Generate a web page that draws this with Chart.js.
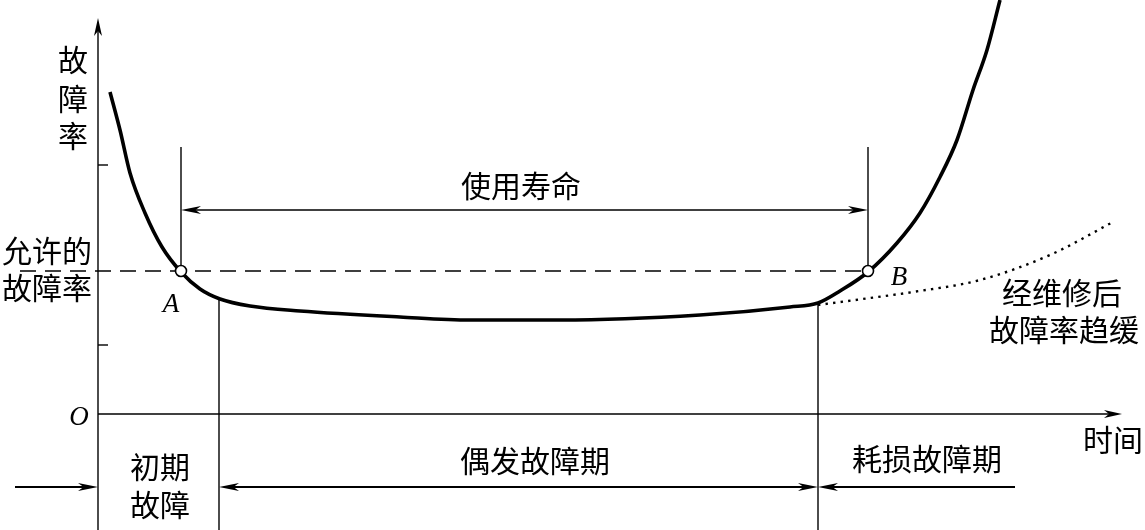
<!DOCTYPE html>
<html>
<head>
<meta charset="utf-8">
<script src="https://cdn.jsdelivr.net/npm/chart.js@4.4.1/dist/chart.umd.min.js"></script>
<style>
  html, body { margin: 0; padding: 0; background: #fff; }
  #wrap { width: 1145px; height: 530px; }
</style>
</head>
<body>
<div id="wrap"><canvas id="c" width="1145" height="530"></canvas></div>
<script>
// ---- Data (time units / failure-rate units) ----
const curveTime = [1.2, 2.2, 3.2, 4.7, 6.4, 8.3, 10.2, 12.2, 15.2, 20.2, 30.2, 37.2, 46.2, 60.2, 69.2, 72.0, 74.2, 77.0, 79.9, 82.2, 84.2, 85.9, 87.5, 88.9, 90.2];
const curveRate = [32.2, 28.4, 24.1, 20.1, 16.7, 14.2, 12.5, 11.5, 10.8, 10.3, 9.7, 9.4, 9.4, 9.9, 10.7, 11.1, 12.3, 14.2, 17.1, 20.1, 23.7, 27.4, 32.4, 36.4, 41.4];
const repairTime = [72.0, 77.2, 81.5, 88.2, 95.2, 101.5];
const repairRate = [10.9, 11.6, 12.2, 13.4, 15.9, 19.2];
const allowedRate = 14.3;
const pointA = { t: 8.3, r: 14.3 };
const pointB = { t: 77.0, r: 14.3 };
const earlyEnd = 12.1;      // end of early-failure period
const wearStart = 72.0;     // start of wear-out period
const yTicks = [24.9, 6.9];
const labels = {
  yTitle: ['故', '障', '率'],
  allowed: ['允许的', '故障率'],
  life: '使用寿命',
  early: ['初期', '故障'],
  random: '偶发故障期',
  wear: '耗损故障期',
  xTitle: '时间',
  repair: ['经维修后', '故障率趋缓'],
  origin: 'O', A: 'A', B: 'B'
};
const X_MIN = -9.8, X_MAX = 104.7, Y_MIN = -11.6, Y_MAX = 41.4;

const CJK = '"Noto Sans CJK SC", "Noto Sans", sans-serif';
const SERIF_IT = 'italic 27px "Liberation Serif", "DejaVu Serif", serif';

function zip(xs, ys) { return xs.map((x, i) => ({ x: x, y: ys[i] })); }

function arrowHead(ctx, tipX, tipY, dirX, dirY, len, half) {
  const nx = -dirY, ny = dirX;
  const bx = tipX - dirX * len, by = tipY - dirY * len;
  const notchX = tipX - dirX * len * 0.72, notchY = tipY - dirY * len * 0.72;
  ctx.beginPath();
  ctx.moveTo(tipX, tipY);
  ctx.lineTo(bx + nx * half, by + ny * half);
  ctx.lineTo(notchX, notchY);
  ctx.lineTo(bx - nx * half, by - ny * half);
  ctx.closePath();
  ctx.fill();
}

const overlay = {
  id: 'overlay',
  beforeDatasetsDraw(chart) {
    const ctx = chart.ctx;
    const xs = chart.scales.x, ys = chart.scales.y;
    const px = v => xs.getPixelForValue(v), py = v => ys.getPixelForValue(v);
    ctx.save();
    ctx.strokeStyle = '#000';
    ctx.fillStyle = '#000';
    ctx.lineWidth = 1.4;
    // y axis
    ctx.beginPath();
    ctx.moveTo(px(0), py(Y_MIN));
    ctx.lineTo(px(0), py(39.6) + 6);
    ctx.stroke();
    arrowHead(ctx, px(0), py(39.6), 0, -1, 18, 4);
    // x axis
    ctx.beginPath();
    ctx.moveTo(px(0), py(0));
    ctx.lineTo(px(102.4) - 6, py(0));
    ctx.stroke();
    arrowHead(ctx, px(102.4), py(0), 1, 0, 18, 4);
    // ticks
    yTicks.forEach(t => {
      ctx.beginPath();
      ctx.moveTo(px(0), py(t));
      ctx.lineTo(px(1.0), py(t));
      ctx.stroke();
    });
    // vertical guides at A and B
    [pointA, pointB].forEach(p => {
      ctx.beginPath();
      ctx.moveTo(px(p.t), py(26.7));
      ctx.lineTo(px(p.t), py(p.r));
      ctx.stroke();
    });
    // period boundaries
    [[earlyEnd, 11.5], [wearStart, 11.1]].forEach(([t, r]) => {
      ctx.beginPath();
      ctx.moveTo(px(t), py(r));
      ctx.lineTo(px(t), py(Y_MIN));
      ctx.stroke();
    });
    // allowed rate dashed line
    ctx.setLineDash([16, 9]);
    ctx.lineWidth = 1.3;
    ctx.beginPath();
    ctx.moveTo(px(-7.8), py(allowedRate));
    ctx.lineTo(px(pointB.t), py(allowedRate));
    ctx.stroke();
    ctx.setLineDash([]);
    // life arrow
    ctx.lineWidth = 1.4;
    const ly = py(20.4);
    ctx.beginPath();
    ctx.moveTo(px(pointA.t) + 6, ly);
    ctx.lineTo(px(pointB.t) - 6, ly);
    ctx.stroke();
    arrowHead(ctx, px(pointA.t), ly, -1, 0, 20, 4);
    arrowHead(ctx, px(pointB.t), ly, 1, 0, 20, 4);
    // bottom period arrows
    ctx.lineWidth = 2;
    const by = py(-7.3);
    ctx.beginPath();
    ctx.moveTo(px(-8.3), by); ctx.lineTo(px(0) - 6, by);
    ctx.moveTo(px(earlyEnd) + 6, by); ctx.lineTo(px(wearStart) - 6, by);
    ctx.moveTo(px(wearStart) + 6, by); ctx.lineTo(px(91.7), by);
    ctx.stroke();
    arrowHead(ctx, px(0), by, 1, 0, 20, 4);
    arrowHead(ctx, px(earlyEnd), by, -1, 0, 20, 4);
    arrowHead(ctx, px(wearStart), by, 1, 0, 20, 4);
    arrowHead(ctx, px(wearStart), by, -1, 0, 20, 4);
    ctx.restore();
  },
  afterDatasetsDraw(chart) {
    const ctx = chart.ctx;
    const xs = chart.scales.x, ys = chart.scales.y;
    const px = v => xs.getPixelForValue(v), py = v => ys.getPixelForValue(v);
    ctx.save();
    ctx.fillStyle = '#000';
    ctx.textAlign = 'center';
    ctx.textBaseline = 'middle';
    ctx.font = '30px ' + CJK;
    // y title vertical
    [35.4, 31.5, 27.8].forEach((y, i) => ctx.fillText(labels.yTitle[i], px(-2.5), py(y)));
    ctx.fillText(labels.allowed[0], px(-5.1), py(16.3));
    ctx.fillText(labels.allowed[1], px(-5.1), py(12.6));
    ctx.fillText(labels.life, px(42.3), py(22.8));
    ctx.fillText(labels.early[0], px(6.2), py(-5.3));
    ctx.fillText(labels.early[1], px(6.2), py(-9.1));
    ctx.fillText(labels.random, px(43.7), py(-4.7));
    ctx.fillText(labels.wear, px(82.9), py(-4.5));
    ctx.fillText(labels.xTitle, px(101.5), py(-2.6));
    ctx.fillText(labels.repair[0], px(96.4), py(12.1));
    ctx.fillText(labels.repair[1], px(96.6), py(8.4));
    ctx.font = SERIF_IT;
    ctx.fillText(labels.origin, px(-1.9), py(-0.4));
    ctx.fillText(labels.A, px(7.3), py(10.9));
    ctx.fillText(labels.B, px(80.1), py(13.6));
    ctx.restore();
  }
};

new Chart(document.getElementById('c'), {
  type: 'scatter',
  data: {
    datasets: [
      {
        label: 'curve',
        data: zip(curveTime, curveRate),
        showLine: true,
        borderColor: '#000',
        borderWidth: 3.6,
        pointRadius: 0,
        cubicInterpolationMode: 'monotone',
        clip: false,
        order: 2
      },
      {
        label: 'repair',
        data: zip(repairTime, repairRate),
        showLine: true,
        borderColor: '#000',
        borderWidth: 2.4,
        borderDash: [2.4, 5.2],
        pointRadius: 0,
        cubicInterpolationMode: 'monotone',
        order: 3
      },
      {
        label: 'AB',
        data: [{ x: pointA.t, y: pointA.r }, { x: pointB.t, y: pointB.r }],
        showLine: false,
        pointRadius: 5.5,
        pointBorderWidth: 1.6,
        pointBorderColor: '#000',
        pointBackgroundColor: '#fff',
        order: 1
      }
    ]
  },
  options: {
    responsive: false,
    animation: false,
    events: [],
    layout: { padding: 0, autoPadding: false },
    plugins: { legend: { display: false }, tooltip: { enabled: false } },
    scales: {
      x: { type: 'linear', min: X_MIN, max: X_MAX, display: false },
      y: { type: 'linear', min: Y_MIN, max: Y_MAX, display: false }
    }
  },
  plugins: [overlay]
});
</script>
</body>
</html>
